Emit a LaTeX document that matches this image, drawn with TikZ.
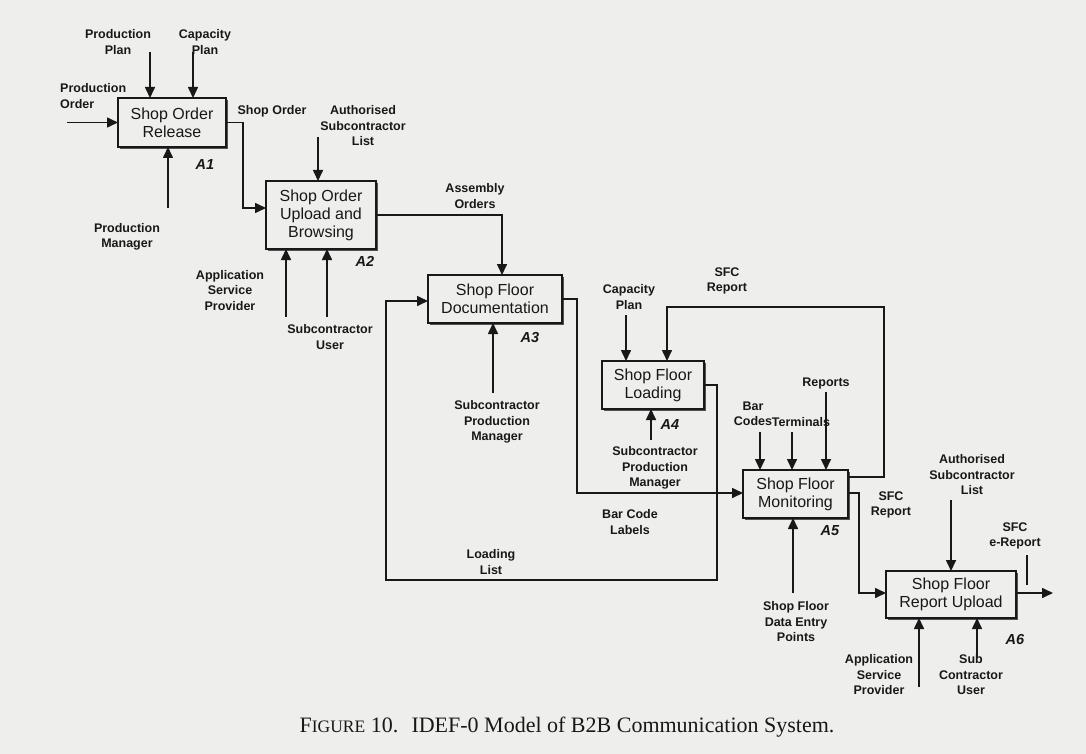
\documentclass[tikz,border=0pt]{standalone}
\usepackage{fontspec}
\setmainfont{Liberation Sans}
\newfontfamily\capfont{Liberation Serif}
\usetikzlibrary{arrows.meta,shadows}
\definecolor{paper}{RGB}{238,238,236}
\definecolor{ink}{RGB}{24,24,24}
\begin{document}
\begin{tikzpicture}[x=1pt,y=-1pt,
  box/.style={draw=ink, line width=1.9pt, fill=paper, align=center, inner sep=0pt, outer sep=0pt,
    font=\fontsize{16}{18}\selectfont, text=ink,
    drop shadow={shadow xshift=2pt, shadow yshift=-2pt, fill=ink!75, opacity=1}},
  lab/.style={font=\fontsize{12.5}{15.5}\selectfont\bfseries, align=center, text=ink, inner sep=0pt},
  aid/.style={font=\fontsize{14.5}{16}\selectfont\bfseries\itshape, text=ink, inner sep=0pt},
  arr/.style={draw=ink, line width=1.6pt, -{Triangle[length=11pt,width=10pt]}},
  ln/.style={draw=ink, line width=1.6pt}]
\fill[paper] (0,0) rectangle (1086,754);
\useasboundingbox (0,0) rectangle (1086,754);

% boxes
\node[box, minimum width=108pt, minimum height=49pt] (a1) at (172,122.5) {Shop Order\\Release};
\node[box, minimum width=110pt, minimum height=68pt] (a2) at (321,215) {Shop Order\\Upload and\\Browsing};
\node[box, minimum width=134pt, minimum height=48pt] (a3) at (495,299) {Shop Floor\\Documentation};
\node[box, minimum width=102pt, minimum height=48pt] (a4) at (653,385) {Shop Floor\\Loading};
\node[box, minimum width=105pt, minimum height=48pt] (a5) at (795.5,494) {Shop Floor\\Monitoring};
\node[box, minimum width=130pt, minimum height=47pt] (a6) at (951,594.5) {Shop Floor\\Report Upload};

\node[aid] (a1id) at (205,165) {A1};
\node[aid] (a2id) at (365,261) {A2};
\node[aid] (a3id) at (530,338) {A3};
\node[aid] (a4id) at (670,425) {A4};
\node[aid] (a5id) at (830,531) {A5};
\node[aid] (a6id) at (1015,640) {A6};

% free ends
\coordinate (po) at (67,122.5);
\coordinate (pp) at (150,52);
\coordinate (cp1) at (193,52);
\coordinate (pm) at (168,208);
\coordinate (asl1) at (318,137);
\coordinate (asp1) at (286,317);
\coordinate (su1) at (327,317);
\coordinate (spm1) at (493,393);
\coordinate (cp2) at (626,315);
\coordinate (spm2) at (651,440);
\coordinate (bc) at (760,432);
\coordinate (tm) at (792,432);
\coordinate (rp) at (826,392);
\coordinate (sfd) at (793,593);
\coordinate (asl2) at (951,500);
\coordinate (asp2) at (919,687);
\coordinate (scu) at (977,658);
\coordinate (out) at (1053,594.5);
\coordinate (ll) at (386,580);
\coordinate (tk1) at (1027,555);

% A1
\draw[arr] (po) -- (a1.west);
\draw[arr] (pp) -- (pp |- a1.north);
\draw[arr] (cp1) -- (cp1 |- a1.north);
\draw[arr] (pm) -- (pm |- a1.south);
\draw[arr] (a1.east) -- ++(17,0) |- ([yshift=7pt]a2.west);
% A2
\draw[arr] (asl1) -- (asl1 |- a2.north);
\draw[arr] (asp1) -- (asp1 |- a2.south);
\draw[arr] (su1) -- (su1 |- a2.south);
\draw[arr] (a2.east) -| ([xshift=7pt]a3.north);
% A3
\draw[arr] (spm1) -- (spm1 |- a3.south);
\draw[arr] (a3.east) -- ++(15,0) |- ([yshift=1pt]a5.west);
% A4
\draw[arr] (cp2) -- (cp2 |- a4.north);
\draw[arr] (spm2) -- (spm2 |- a4.south);
\draw[arr] (a4.east) -- ++(13,0) |- (ll) |- ([yshift=-2pt]a3.west);
% A5
\draw[arr] (bc) -- (bc |- a5.north);
\draw[arr] (tm) -- (tm |- a5.north);
\draw[arr] (rp) -- (rp |- a5.north);
\draw[arr] (sfd) -- (sfd |- a5.south);
\draw[arr] ([yshift=17pt]a5.east) -- ++(36,0) -- ++(0,-170) -| ([xshift=14pt]a4.north);
\draw[arr] ([yshift=1pt]a5.east) -- ++(11,0) |- ([yshift=1.5pt]a6.west);
% A6
\draw[arr] (asl2) -- (asl2 |- a6.north);
\draw[arr] (asp2) -- (asp2 |- a6.south);
\draw[arr] (scu) -- (scu |- a6.south);
\draw[arr] ([yshift=1.5pt]a6.east) -- ([yshift=1.5pt]out);
\draw[ln] (tk1) -- ++(0,30);

% labels
\node[lab, align=left, anchor=west] (lpo) at (60,96) {Production\\Order};
\node[lab] (lpp) at (118,42) {Production\\Plan};
\node[lab] (lcp1) at (205,42) {Capacity\\Plan};
\node[lab] (lpm) at (127,237) {Production\\Manager};
\node[lab] (lso) at (272,111) {Shop Order};
\node[lab] (lasl1) at (363,126) {Authorised\\Subcontractor\\List};
\node[lab] (lao) at (475,196) {Assembly\\Orders};
\node[lab] (lasp1) at (230,290.5) {Application\\Service\\Provider};
\node[lab] (lsu1) at (330,337) {Subcontractor\\User};
\node[lab] (lspm1) at (497,422) {Subcontractor\\Production\\Manager};
\node[lab] (lcp2) at (629,297) {Capacity\\Plan};
\node[lab] (lsfc1) at (727,281) {SFC\\Report};
\node[lab] (lspm2) at (655,468) {Subcontractor\\Production\\Manager};
\node[lab] (lbcl) at (630,522) {Bar Code\\Labels};
\node[lab] (lll) at (491,562) {Loading\\List};
\node[lab] (lrp) at (826,383) {Reports};
\node[lab] (lbc) at (753,414) {Bar\\Codes};
\node[lab] (ltm) at (801,422) {Terminals};
\node[lab] (lsfd) at (796,622) {Shop Floor\\Data Entry\\Points};
\node[lab] (lsfc2) at (891,505) {SFC\\Report};
\node[lab] (lasl2) at (972,475) {Authorised\\Subcontractor\\List};
\node[lab] (lsfe) at (1015,536) {SFC\\e-Report};
\node[lab] (lasp2) at (879,675) {Application\\Service\\Provider};
\node[lab] (lscu) at (971,675) {Sub\\Contractor\\User};

\node[font=\capfont\fontsize{22}{24}\selectfont, text=ink, inner sep=0pt] (cap) at (567,727)
  {F{\fontsize{17.5}{20}\selectfont IGURE} 10.\hspace{0.6em}IDEF-0 Model of B2B Communication System.};
\end{tikzpicture}
\end{document}
